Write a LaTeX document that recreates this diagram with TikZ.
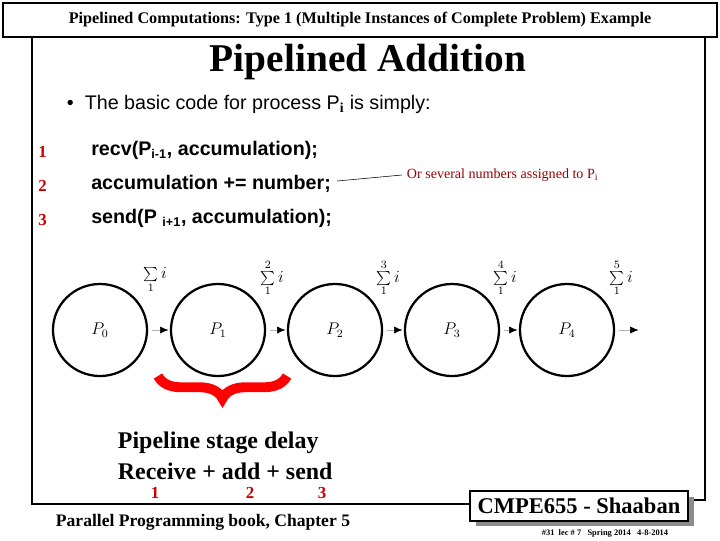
\documentclass[tikz,border=0pt]{standalone}
\usepackage{fontspec}
\setmainfont{Liberation Serif}
\setsansfont{Liberation Sans}
\usetikzlibrary{positioning,shapes.geometric,decorations.pathreplacing,arrows.meta}
\tikzset{
  proc/.style={draw, line width=1.6pt, ellipse, minimum width=2.35cm, minimum height=2.3cm, font=\large},
  sumlbl/.style={font=\large, inner sep=0pt},
  codeln/.style={anchor=west, font=\sffamily\bfseries\fontsize{14}{16}\selectfont, inner sep=0pt},
  lineno/.style={anchor=west, text=red!80!black, font=\bfseries\fontsize{12}{14}\selectfont, inner sep=0pt},
}
\begin{document}
\begin{tikzpicture}[x=0.025cm, y=-0.025cm]
  \useasboundingbox (0,0) rectangle (720,540);
  % slide frame
  \draw [line width=1.4pt] (32,37) -- (32,504) -- (470,504);
  \draw [line width=1.4pt] (705,37) -- (705,500) -- (688,500);
  \node [draw, line width=1.2pt, fill=white, minimum width=17.85cm, minimum height=0.85cm, font=\bfseries\fontsize{11.5}{13}\selectfont] (hdr) at (360,20) {Pipelined Computations: Type 1 (Multiple Instances of Complete Problem) Example};
  \node [font=\bfseries\fontsize{28}{30}\selectfont] (title) at (368,62) {Pipelined Addition};
  \node [anchor=west, font=\sffamily\fontsize{14}{16}\selectfont] (bullet) at (62,104) {\textbullet\ \ The basic code for process P$_{\mathbf{i}}$ is simply:};
  % code
  \node [lineno] (n1) at (38,152) {1};
  \node [lineno] (n2) at (38,186) {2};
  \node [lineno] (n3) at (38,220) {3};
  \node [codeln] (c1) at (91,150) {recv(P$_{\textsf{\small i-1}}$, accumulation);};
  \node [codeln] (c2) at (91,184) {accumulation += number;};
  \node [codeln] (c3) at (91,218) {send(P $_{\textsf{\small i+1}}$, accumulation);};
  \node [anchor=west, text=red!60!black, font=\fontsize{10}{12}\selectfont] (note) at (402,175) {Or several numbers assigned to P$_{\mathrm{i}}$};
  \draw (c2.east) ++(6,-3) coordinate (ne) -- (note.west);
  % processes
  \foreach \k/\x in {0/100,1/218,2/335,3/452,4/567}
    \node [proc] (p\k) at (\x,330) {$P_{\k}$};
  \coordinate (pend) at (640,330);
  \foreach \a/\b in {p0/p1,p1/p2,p2/p3,p3/p4,p4/pend}
    \draw [black!30, -{Latex[black, length=6pt, width=5pt]}] (\a) ++(52,0) -- ([xshift=-1pt]\b.west);
  \foreach \x/\t in {155/,272/2,388/3,505/4,621/5}
    \node [sumlbl] at (\x,278) {$\sum\limits_{1}^{\t} i$};
  % stage delay
  \draw [red, line width=7pt, decorate, decoration={brace, mirror, amplitude=16pt}] (158,376) -- (287,376);
  \node [anchor=west, align=left, font=\bfseries\fontsize{17}{22}\selectfont] (delay) at (113,456) {Pipeline stage delay\\Receive + add + send};
  \foreach \x/\t in {155/1,250/2,322/3}
    \node [text=red!80!black, font=\bfseries\fontsize{12}{14}\selectfont] at (\x,493) {\t};
  \node [font=\bfseries\fontsize{12.5}{14}\selectfont] (book) at (203,522) {Parallel Programming book, Chapter 5};
  % footer box
  \fill [black!45] (476,497) rectangle (694,526);
  \node [draw, line width=1.2pt, fill=white, minimum width=5.45cm, minimum height=0.75cm, font=\bfseries\fontsize{16}{18}\selectfont] (cmpe) at (579,506) {CMPE655 - Shaaban};
  \node [font=\bfseries\fontsize{6}{7}\selectfont] (foot) at (605,533) {\#31\ \ lec \# 7\ \ \ Spring 2014\ \ \ 4-8-2014};
\end{tikzpicture}
\end{document}
